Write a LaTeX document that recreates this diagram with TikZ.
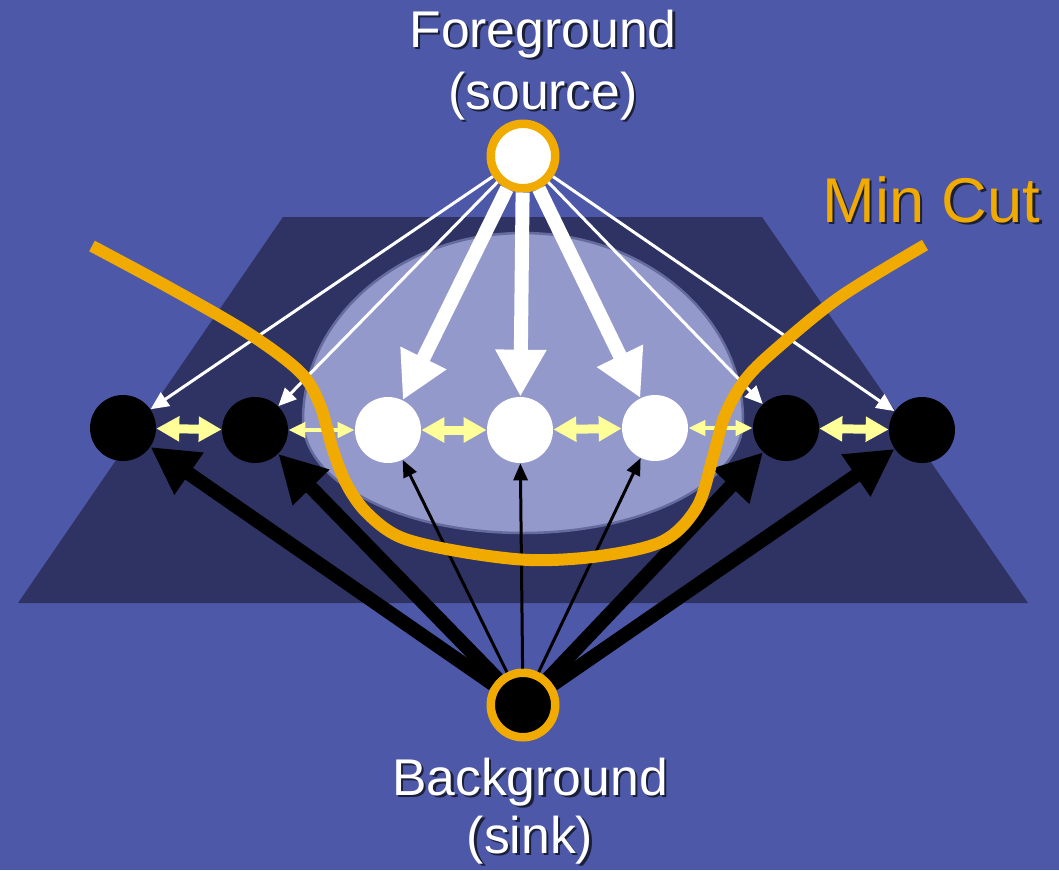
\documentclass[tikz,border=0pt]{standalone}
\usepackage{fontspec}
\setmainfont{Liberation Sans}
\usetikzlibrary{arrows.meta}
\definecolor{bgblue}{RGB}{77,89,168}
\definecolor{trap}{RGB}{46,51,100}
\definecolor{ell}{RGB}{148,153,204}
\definecolor{cutor}{RGB}{240,170,0}
\definecolor{yel}{RGB}{255,255,153}
\begin{document}
\begin{tikzpicture}[x=0.02cm,y=-0.02cm,
  pix/.style={circle,inner sep=0pt,minimum size=1.32cm},
  fgpix/.style={pix,fill=white},
  bgpix/.style={pix,fill=black},
  term/.style={circle,inner sep=0pt,minimum size=1.29cm,draw=cutor,line width=0.17cm},
  thinW/.style={draw=white,line width=0.06cm,-{Triangle[length=0.36cm,width=0.32cm]}},
  thickW/.style={draw=white,line width=0.28cm,-{Triangle[length=0.94cm,width=0.96cm]}},
  thinK/.style={draw=black,line width=0.06cm,-{Triangle[length=0.34cm,width=0.28cm]}},
  thickK/.style={draw=black,line width=0.28cm,-{Triangle[length=0.94cm,width=0.96cm]}},
  yThick/.style={draw=yel,line width=0.18cm,{Triangle[length=0.46cm,width=0.48cm]}-{Triangle[length=0.46cm,width=0.48cm]}},
  yThin/.style={draw=yel,line width=0.08cm,{Triangle[length=0.34cm,width=0.3cm]}-{Triangle[length=0.34cm,width=0.3cm]}},
  lbl/.style={text=white,font=\fontsize{29.4}{35}\selectfont,inner sep=0pt,anchor=base},
  cutlbl/.style={text=cutor,font=\fontsize{36}{42}\selectfont,inner sep=0pt,anchor=base west},
  shd/.style={text=black,text opacity=0.65},
  cutline/.style={draw=cutor,line width=0.24cm}
]
% background and bounding box
\fill[bgblue] (0,0) rectangle (1059,870);
\useasboundingbox (0,0) rectangle (1059,870);
% image plane
\fill[trap] (283,217) -- (762,217) -- (1028,603) -- (18,603) -- cycle;
% foreground region
\path[fill=ell,draw=ell!55!trap,line width=0.05cm] (303,420)
  arc[start angle=180,end angle=360,x radius=220,y radius=187]
  arc[start angle=0,end angle=180,x radius=220,y radius=113] -- cycle;

% labels with shadow
\node[lbl,shd] (fgAs) at (545.5,49.5) {Foreground};
\node[lbl,shd] (fgBs) at (545.5,111.5) {(source)};
\node[lbl,shd] (bgAs) at (532.5,797.5) {Background};
\node[lbl,shd] (bgBs) at (532.5,855.5) {(sink)};
\node[cutlbl,shd] (mcs) at (824.5,224.5) {Min Cut};
\node[lbl] (fgA) at (543,47) {Foreground};
\node[lbl] (fgB) at (543,109) {(source)};
\node[lbl] (bgA) at (530,795) {Background};
\node[lbl] (bgB) at (530,853) {(sink)};
\node[cutlbl] (mc) at (822,222) {Min Cut};

% terminals
\node[term,fill=white] (src) at (523,156) {};
\node[term,fill=black] (snk) at (523,705) {};

% pixels
\node[bgpix] (p1) at (123,428) {};
\node[bgpix] (p2) at (255,430) {};
\node[fgpix] (p3) at (388,430) {};
\node[fgpix] (p4) at (520,430) {};
\node[fgpix] (p5) at (655,428) {};
\node[bgpix] (p6) at (786,428) {};
\node[bgpix] (p7) at (922,430) {};

% source links
\draw[thinW] (src) -- (p1);
\draw[thinW] (src) -- (p2);
\draw[thinW] (src) -- (p6);
\draw[thinW] (src) -- (p7);
\draw[thickW] (src) -- (p3);
\draw[thickW] (src) -- (p4);
\draw[thickW] (src) -- (p5);

% sink links
\draw[thickK] (snk) -- (p1);
\draw[thickK] (snk) -- (p2);
\draw[thickK] (snk) -- (p6);
\draw[thickK] (snk) -- (p7);
\draw[thinK] (snk) -- (p3);
\draw[thinK] (snk) -- (p4);
\draw[thinK] (snk) -- (p5);

% neighbour links
\draw[yThick] (p1) -- (p2);
\draw[yThin] (p2) -- (p3);
\draw[yThick] (p3) -- (p4);
\draw[yThick] (p4) -- (p5);
\draw[yThin] (p5) -- (p6);
\draw[yThick] (p6) -- (p7);

% min cut
\draw[cutline] plot[smooth,tension=0.55] coordinates {
  (92,246) (170,288) (248,333) (300,372) (320,405) (333,450) (347,485)
  (367,513) (400,537) (457,551) (530,560) (600,556) (663,541) (697,507)
  (713,457) (725,415) (745,380) (775,350) (840,297) (925,245)};
\end{tikzpicture}
\end{document}
